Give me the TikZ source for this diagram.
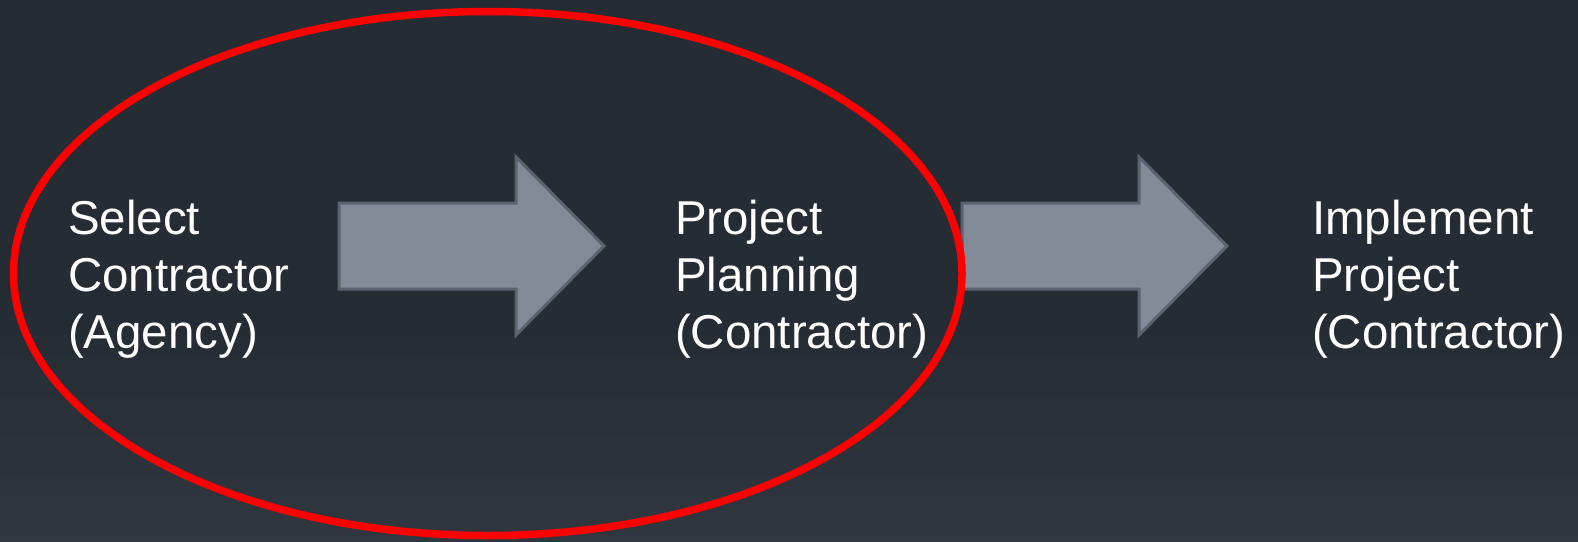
\documentclass[tikz,border=0pt]{standalone}
\usepackage{fontspec}
\setmainfont{Liberation Sans}
\definecolor{bgtop}{RGB}{38,44,52}
\definecolor{bgbot}{RGB}{60,68,77}
\definecolor{arrowfill}{RGB}{131,139,153}
\definecolor{arrowline}{RGB}{91,99,110}
\definecolor{ringred}{RGB}{255,0,0}
\pgfdeclareverticalshading{bgshade}{100bp}{color(0bp)=(bgbot); color(45bp)=(bgtop); color(100bp)=(bgtop)}
\tikzset{
  label/.style={anchor=base west, inner sep=0pt, outer sep=0pt, align=left, text=white,
    font=\fontsize{47.5pt}{57pt}\selectfont},
  blockarrow/.style={fill=arrowfill, draw=arrowline, line width=3pt, line join=miter},
  ring/.style={draw=ringred, line width=7.5pt}
}
\begin{document}
\begin{tikzpicture}[x=1pt,y=-1pt]
\useasboundingbox (0,0) rectangle (1578,541);
\shade[shading=bgshade] (0,0) rectangle (1578,541);
% arrows
\draw[blockarrow] (339,203) -- (516,203) -- (516,157) -- (604,246) -- (516,335) -- (516,289) -- (339,289) -- cycle;
\draw[blockarrow] (962,203) -- (1139,203) -- (1139,157) -- (1227,246) -- (1139,335) -- (1139,289) -- (962,289) -- cycle;
% labels
\node[label] (select) at (68,348) {Select\\Contractor\\(Agency)};
\node[label] (plan) at (675,348) {Project\\Planning\\(Contractor)};
\node[label] (impl) at (1312,348) {Implement\\Project\\(Contractor)};
% ring
\draw[ring] (487.75,273.5) ellipse [x radius=474.25, y radius=262];
\end{tikzpicture}
\end{document}
